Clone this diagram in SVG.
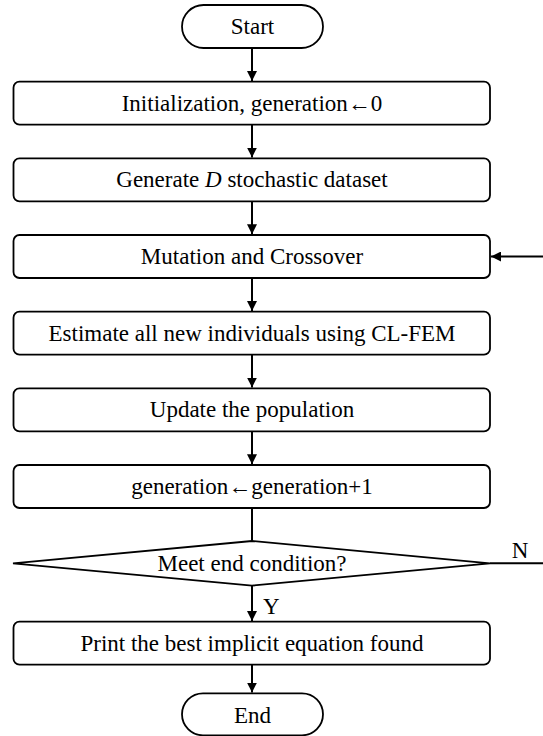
<svg xmlns="http://www.w3.org/2000/svg" width="543" height="736" viewBox="0 0 543 736">
<style>
.b{fill:#fff;stroke:#000;stroke-width:1.8}
.t{font-family:'Liberation Serif','Times New Roman','DejaVu Serif',serif;font-size:23px;fill:#000;text-anchor:middle}
.c{stroke:#000;stroke-width:2;fill:none}
</style>
<defs>
<marker id="a" markerWidth="10" markerHeight="10" refX="10" refY="5" orient="auto" markerUnits="userSpaceOnUse">
<path d="M0,0 L10,5 L0,10 Z" fill="#000"/>
</marker>
</defs>
<rect width="543" height="736" fill="#fff"/>
<g id="start"><rect class="b" x="182" y="5" width="141" height="43" rx="21.5"/><text class="t" x="252.5" y="34">Start</text></g>
<g id="init"><rect class="b" x="13.5" y="81.7" width="476.5" height="43" rx="6"/><text class="t" x="252" y="110.5">Initialization, generation←0</text></g>
<g id="gen"><rect class="b" x="13.5" y="158.3" width="476.5" height="43" rx="6"/><text class="t" x="252" y="187">Generate <tspan font-style="italic">D</tspan> stochastic dataset</text></g>
<g id="mut"><rect class="b" x="13.5" y="235" width="476.5" height="43" rx="6"/><text class="t" x="252" y="264">Mutation and Crossover</text></g>
<g id="est"><rect class="b" x="13.5" y="311.7" width="476.5" height="43" rx="6"/><text class="t" x="252" y="340.5">Estimate all new individuals using CL-FEM</text></g>
<g id="upd"><rect class="b" x="13.5" y="388.3" width="476.5" height="43" rx="6"/><text class="t" x="252" y="417">Update the population</text></g>
<g id="inc"><rect class="b" x="13.5" y="465" width="476.5" height="43" rx="6"/><text class="t" x="252" y="494">generation←generation+1</text></g>
<g id="cond"><polygon class="b" points="13,563.3 252,541 490,563.3 252,585.6"/><text class="t" x="252" y="571">Meet end condition?</text></g>
<g id="print"><rect class="b" x="13.5" y="621.7" width="476.5" height="43" rx="6"/><text class="t" x="252" y="650.5">Print the best implicit equation found</text></g>
<g id="end"><rect class="b" x="182" y="693.3" width="141" height="42" rx="21"/><text class="t" x="252.5" y="723">End</text></g>
<g id="connectors">
<line class="c" x1="252" y1="48" x2="252" y2="81" marker-end="url(#a)"/>
<line class="c" x1="252" y1="124.7" x2="252" y2="157.6" marker-end="url(#a)"/>
<line class="c" x1="252" y1="201.3" x2="252" y2="234.3" marker-end="url(#a)"/>
<line class="c" x1="252" y1="278" x2="252" y2="311" marker-end="url(#a)"/>
<line class="c" x1="252" y1="354.7" x2="252" y2="387.6" marker-end="url(#a)"/>
<line class="c" x1="252" y1="431.3" x2="252" y2="464.3" marker-end="url(#a)"/>
<line class="c" x1="252" y1="508" x2="252" y2="540.5"/>
<line class="c" x1="252" y1="585.6" x2="252" y2="621" marker-end="url(#a)"/>
<line class="c" x1="252" y1="664.7" x2="252" y2="692.6" marker-end="url(#a)"/>
<line class="c" x1="490" y1="563.3" x2="543" y2="563.3"/>
<line class="c" x1="543" y1="256.5" x2="491" y2="256.5" marker-end="url(#a)"/>
<text class="t" x="520" y="558">N</text>
<text class="t" x="263" y="614" style="text-anchor:start">Y</text>
</g>
</svg>
